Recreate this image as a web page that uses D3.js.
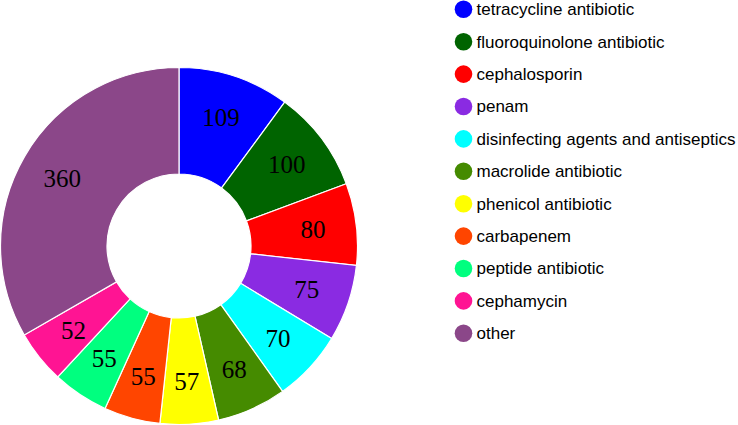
<!DOCTYPE html>
<html>
<head>
<meta charset="utf-8">
<script src="https://cdn.jsdelivr.net/npm/d3@7"></script>
<style>
  body { margin: 0; background: #fff; }
  svg { display: block; }
</style>
</head>
<body>
<div class="c_donut"></div>
<script>
/* data */
const categories = ["tetracycline antibiotic", "fluoroquinolone antibiotic", "cephalosporin", "penam",
  "disinfecting agents and antiseptics", "macrolide antibiotic", "phenicol antibiotic", "carbapenem",
  "peptide antibiotic", "cephamycin", "other"];
const counts = [109, 100, 80, 75, 70, 68, 57, 55, 55, 52, 360];
const colours = ["#0000ff", "#006400", "#ff0000", "#8a2be2", "#00ffff", "#458b00",
  "#ffff00", "#ff4500", "#00ff7f", "#ff1493", "#8b4789"];

/* svg */
const width = 738;
const height = 425;
const svg = d3.select(".c_donut").append("svg")
  .attr("width", width)
  .attr("height", height);

const cx = 179, cy = 246;
const outerR = 178.5, innerR = 72, labelR = 135;

const data = categories.map((c, i) => ({ name: c, value: counts[i], colour: colours[i] }));

const pie = d3.pie().value(d => d.value).sort(null);
const arc = d3.arc().innerRadius(innerR).outerRadius(outerR);
const labelArc = d3.arc().innerRadius(labelR).outerRadius(labelR);

const g = svg.append("g").attr("transform", `translate(${cx},${cy})`);

const slices = g.selectAll("g.slice")
  .data(pie(data))
  .enter()
  .append("g")
  .attr("class", "slice");

slices.append("path")
  .attr("d", arc)
  .attr("fill", d => d.data.colour)
  .attr("stroke", "#fff")
  .attr("stroke-width", 1.2);

slices.append("text")
  .attr("transform", d => `translate(${labelArc.centroid(d)})`)
  .attr("text-anchor", "middle")
  .attr("dy", "0.35em")
  .style("font-family", "'Liberation Serif', 'Times New Roman', serif")
  .style("font-size", "25px")
  .attr("fill", "#000")
  .text(d => d.data.value);

/* legend */
const legend = svg.append("g").attr("transform", "translate(463.5,9.3)");
const rowH = 32.4;

const items = legend.selectAll("g")
  .data(data)
  .enter()
  .append("g")
  .attr("transform", (d, i) => `translate(0,${i * rowH})`);

items.append("circle")
  .attr("r", 8.8)
  .attr("fill", d => d.colour);

items.append("text")
  .attr("x", 13)
  .attr("dy", "0.35em")
  .style("font-family", "'Liberation Sans', Arial, sans-serif")
  .style("font-size", "17px")
  .attr("fill", "#000")
  .text(d => d.name);
</script>
</body>
</html>
